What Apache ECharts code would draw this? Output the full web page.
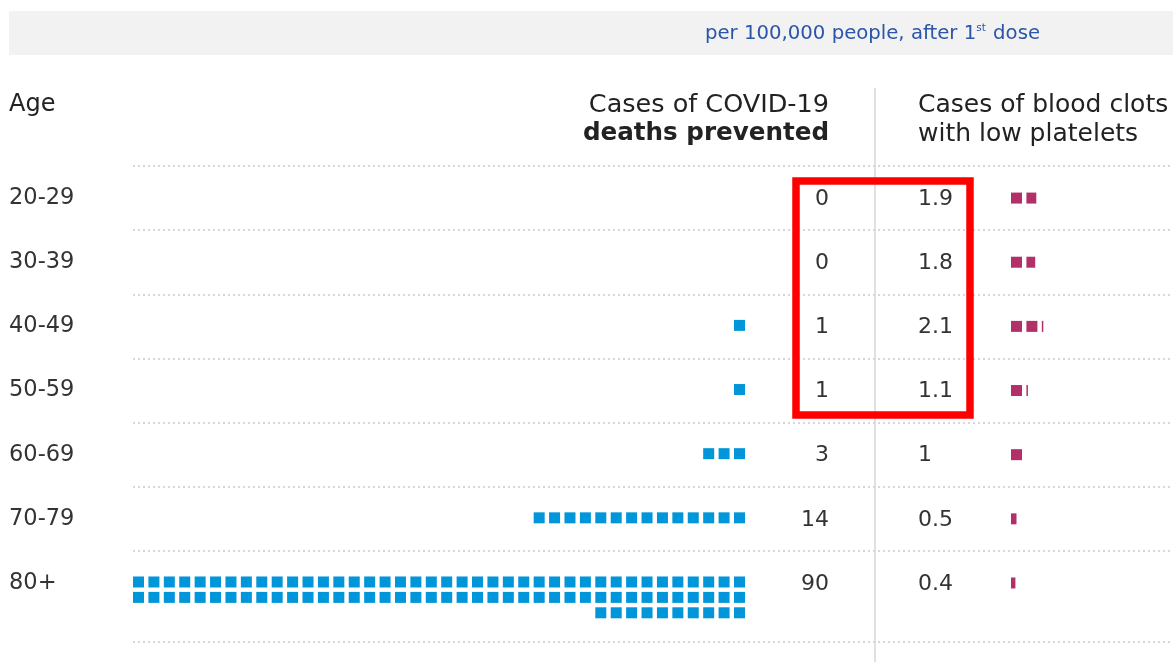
<!DOCTYPE html>
<html>
<head>
<meta charset="utf-8">
<script src="https://cdn.jsdelivr.net/npm/echarts@6/dist/echarts.min.js"></script>
<style>
  html, body { margin: 0; padding: 0; background: #ffffff; }
  #chart { width: 1173px; height: 662px; }
</style>
</head>
<body>
<div id="chart"></div>
<script>
// ---- data ----
const ages = ['20-29', '30-39', '40-49', '50-59', '60-69', '70-79', '80+'];
const deathsPrevented = [0, 0, 1, 1, 3, 14, 90];
const bloodClots = [1.9, 1.8, 2.1, 1.1, 1, 0.5, 0.4];
const headerLeft = 'Age';
const headerDeaths = ['Cases of COVID-19', 'deaths prevented'];
const headerClots = ['Cases of blood clots', 'with low platelets'];
const noteParts = ['per 100,000 people, after 1', 'st', ' dose'];

// ---- layout / style ----
const FONT = "'DejaVu Sans', Verdana, sans-serif";
const BLUE = '#0096d9';
const PINK = '#b32f6a';
const TEXT = '#333333';
const PITCH = 15.41;                 // px per x unit (one square + gap)
const GRID_LEFT = 133;
const CHART_W = 1173;
const XMAX = (CHART_W - GRID_LEFT) / PITCH;
const COLS = 40;                     // squares per waffle row
const SQ_FRAC = 11 / PITCH;          // square size relative to pitch
const DEATH_NUM_X = (829 - GRID_LEFT) / PITCH;
const CLOT_NUM_X = (918 - GRID_LEFT) / PITCH;
const CLOT_START = (1011 - GRID_LEFT) / PITCH;
const Y_MIN = -0.5, Y_MAX = 6.92;

const rowBoundaries = ages.map((_, i) => i - 0.5).concat([Y_MAX]);

function renderDeaths(params, api) {
  const row = api.value(0), v = api.value(1);
  const unit = api.size([1, 0])[0];
  const sq = unit * SQ_FRAC;
  const children = [];
  for (let k = 0; k < v; k++) {
    const col = k % COLS, sub = Math.floor(k / COLS);
    const p = api.coord([COLS - 1 - col, row]);
    children.push({
      type: 'rect',
      shape: { x: p[0], y: p[1] - sq / 2 - 1 + sub * unit, width: sq, height: sq },
      style: { fill: BLUE }
    });
  }
  const t = api.coord([DEATH_NUM_X, row]);
  children.push({
    type: 'text', x: t[0], y: t[1] + 1,
    style: { text: String(v), align: 'right', verticalAlign: 'middle',
             font: '22px ' + FONT, fill: TEXT }
  });
  return { type: 'group', children };
}

function renderClots(params, api) {
  const row = api.value(0), v = api.value(1);
  const unit = api.size([1, 0])[0];
  const sq = unit * SQ_FRAC;
  const children = [];
  for (let j = 0; j < v; j++) {
    const frac = Math.min(1, v - j);
    const p = api.coord([CLOT_START + j, row]);
    children.push({
      type: 'rect',
      shape: { x: p[0], y: p[1] - sq / 2, width: Math.max(1.5, sq * frac), height: sq },
      style: { fill: PINK }
    });
  }
  const t = api.coord([CLOT_NUM_X, row]);
  children.push({
    type: 'text', x: t[0], y: t[1] + 1,
    style: { text: String(v), align: 'left', verticalAlign: 'middle',
             font: '22px ' + FONT, fill: TEXT }
  });
  return { type: 'group', children };
}

const chart = echarts.init(document.getElementById('chart'), null, { renderer: 'canvas' });

const option = {
  animation: false,
  backgroundColor: '#ffffff',
  grid: { left: GRID_LEFT, right: 0, top: 166, bottom: 20, containLabel: false },
  xAxis: {
    type: 'value', min: 0, max: XMAX, show: false
  },
  yAxis: {
    type: 'value', inverse: true, min: Y_MIN, max: Y_MAX, interval: 0.5,
    axisLine: { show: false }, axisTick: { show: false }, splitLine: { show: false },
    axisLabel: {
      showMaxLabel: false,
      align: 'left', margin: GRID_LEFT - 9,
      fontSize: 22.5, fontFamily: FONT, color: TEXT,
      formatter: function (v) {
        const r = Math.round(v);
        return Math.abs(v - r) < 1e-6 && ages[r] !== undefined ? ages[r] : '';
      }
    }
  },
  graphic: [
    { type: 'rect', shape: { x: 9, y: 11, width: 1164, height: 44 },
      style: { fill: '#f2f2f2' }, z: 0 },
    { type: 'text', x: 1040, y: 34, z: 1,
      style: {
        text: '{a|' + noteParts[0] + '}{s|' + noteParts[1] + '}{a|' + noteParts[2] + '}',
        align: 'right', verticalAlign: 'middle',
        rich: {
          a: { fontSize: 19.7, fontFamily: FONT, fill: '#2a55a8', color: '#2a55a8', lineHeight: 22 },
          s: { fontSize: 10.5, fontFamily: FONT, fill: '#2a55a8', color: '#2a55a8', lineHeight: 22, verticalAlign: 'top', padding: [0, 1, 8, 0] }
        }
      }
    },
    { type: 'line', shape: { x1: 875, y1: 88, x2: 875, y2: 662 },
      style: { stroke: '#cccccc', lineWidth: 1.2 }, z: 1 },
    { type: 'text', x: 9, y: 105, z: 2,
      style: { text: headerLeft, align: 'left', verticalAlign: 'middle',
               font: '24px ' + FONT, fill: '#222222' } },
    { type: 'text', x: 829, y: 105, z: 2,
      style: { text: headerDeaths[0], align: 'right', verticalAlign: 'middle',
               font: '25.5px ' + FONT, fill: '#222222' } },
    { type: 'text', x: 829, y: 134, z: 2,
      style: { text: headerDeaths[1], align: 'right', verticalAlign: 'middle',
               font: 'bold 24.6px ' + FONT, fill: '#222222' } },
    { type: 'text', x: 918, y: 105, z: 2,
      style: { text: headerClots[0], align: 'left', verticalAlign: 'middle',
               font: '25px ' + FONT, fill: '#222222' } },
    { type: 'text', x: 918, y: 134, z: 2,
      style: { text: headerClots[1], align: 'left', verticalAlign: 'middle',
               font: '25px ' + FONT, fill: '#222222' } },
    { type: 'rect', shape: { x: 796, y: 181, width: 174, height: 234 },
      style: { fill: 'none', stroke: '#ff0000', lineWidth: 7.5 }, z: 100 }
  ],
  series: [
    {
      name: 'Deaths prevented', type: 'custom', renderItem: renderDeaths,
      data: deathsPrevented.map((v, i) => [i, v]),
      encode: { x: 1, y: 0 },
      clip: false,
      markLine: {
        silent: true, symbol: ['none', 'none'], label: { show: false },
        lineStyle: { type: [2, 3], color: '#cccccc', width: 1.5 },
        data: rowBoundaries.map(v => ({ yAxis: v }))
      },
      z: 3
    },
    {
      name: 'Blood clots', type: 'custom', renderItem: renderClots,
      data: bloodClots.map((v, i) => [i, v]),
      encode: { x: 1, y: 0 },
      clip: false,
      z: 3
    }
  ]
};
chart.setOption(option);
</script>
</body>
</html>
